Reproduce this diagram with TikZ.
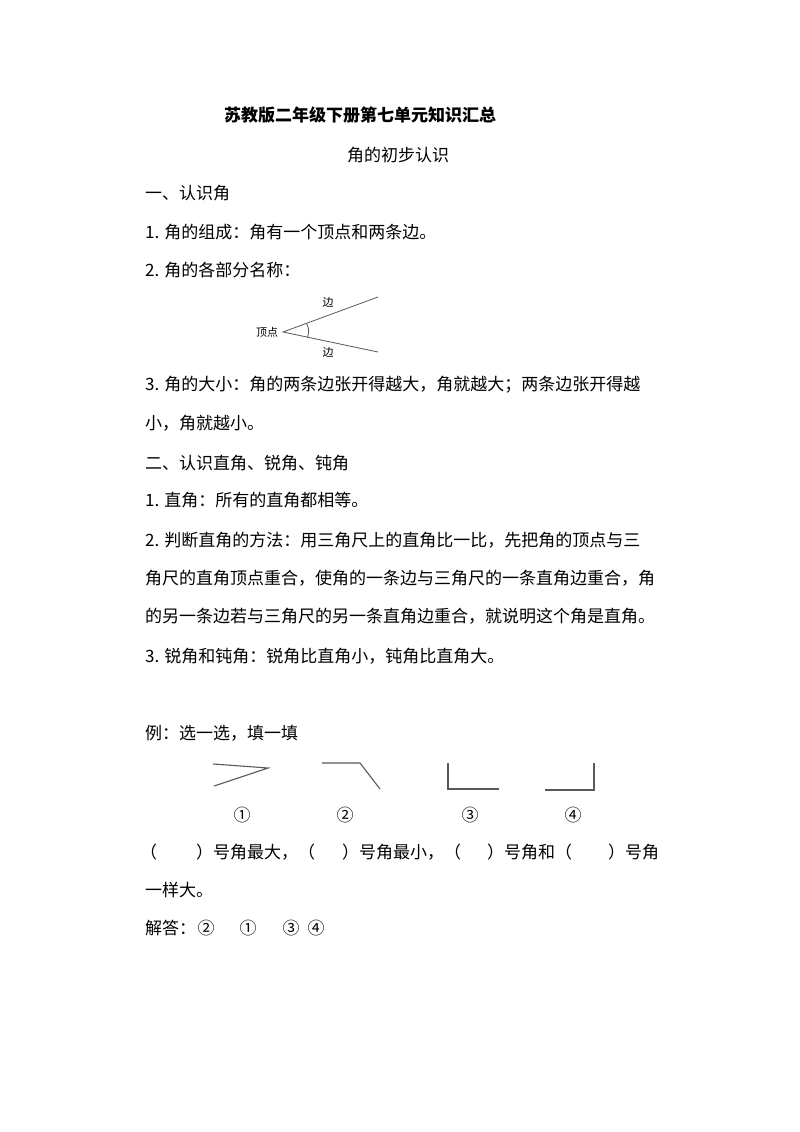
\documentclass[tikz,border=0pt]{standalone}
\usepackage{fontspec}
\usetikzlibrary{calc}
\setmainfont{Noto Sans CJK SC}
\begin{document}
\begin{tikzpicture}[x=1pt,y=-1pt,
  txt/.style={anchor=west,inner sep=0pt,font=\fontsize{17}{17}\selectfont},
  sm/.style={inner sep=0pt,font=\fontsize{11}{11}\selectfont},
  ln/.style={draw=black!65,line width=1.1pt}]
\useasboundingbox[fill=white] (0,0) rectangle (800,1132);
\node[txt,font=\fontsize{17}{17}\bfseries\selectfont,anchor=center] (t) at (360,115) {苏教版二年级下册第七单元知识汇总};
\node[txt,anchor=center] (st) at (398,155) {角的初步认识};
\node[txt] (a1) at (145,193) {一、认识角};
\node[txt] (a2) at (145,232) {1. 角的组成：角有一个顶点和两条边。};
\node[txt] (a3) at (145,270) {2. 角的各部分名称：};
% angle diagram
\coordinate (v) at (283,332);
\coordinate (u) at (378,297);
\coordinate (d) at (378,352);
\draw[ln,line width=0.8pt] (u) -- (v) -- (d);
\draw[ln,line width=0.8pt] ($(v)!25pt!(u)$) to[bend left=25] ($(v)!25pt!(d)$);
\node[sm] (vl) at (267,332) {顶点};
\node[sm] (e1) at (328,302) {边};
\node[sm] (e2) at (328,352) {边};
\node[txt] (a4) at (145,385) {3. 角的大小：角的两条边张开得越大，角就越大；两条边张开得越};
\node[txt] (a5) at (145,423) {小，角就越小。};
\node[txt] (b1) at (145,463) {二、认识直角、锐角、钝角};
\node[txt] (b2) at (145,500) {1. 直角：所有的直角都相等。};
\node[txt] (b3) at (145,540) {2. 判断直角的方法：用三角尺上的直角比一比，先把角的顶点与三};
\node[txt] (b4) at (145,578) {角尺的直角顶点重合，使角的一条边与三角尺的一条直角边重合，角};
\node[txt] (b5) at (145,616) {的另一条边若与三角尺的另一条直角边重合，就说明这个角是直角。};
\node[txt] (b6) at (145,656) {3. 锐角和钝角：锐角比直角小，钝角比直角大。};
\node[txt] (c1) at (145,733) {例：选一选，填一填};
\draw[ln] (213,764) -- (268,768) -- (214,786);
\draw[ln] (322,763) -- (360,763) -- (380,789);
\draw[ln] (448,763) -- (448,789) -- (499,789);
\draw[ln] (545,790) -- (594,790) -- (594,763);
\node[txt,anchor=center] (n1) at (242,815) {①};
\node[txt,anchor=center] (n2) at (345,815) {②};
\node[txt,anchor=center] (n3) at (470,815) {③};
\node[txt,anchor=center] (n4) at (573,815) {④};
\node[txt] (q1) at (140,852) {（};
\node[txt] (q2) at (196,852) {）号角最大，（};
\node[txt] (q3) at (342,852) {）号角最小，（};
\node[txt] (q4) at (487,852) {）号角和（};
\node[txt] (q5) at (608,852) {）号角};
\node[txt] (q6) at (145,890) {一样大。};
\node[txt] (s1) at (145,928) {解答：};
\node[txt,anchor=center] (s2) at (206,928) {②};
\node[txt,anchor=center] (s3) at (248,928) {①};
\node[txt,anchor=center] (s4) at (291,928) {③};
\node[txt,anchor=center] (s5) at (316,928) {④};
\end{tikzpicture}
\end{document}
